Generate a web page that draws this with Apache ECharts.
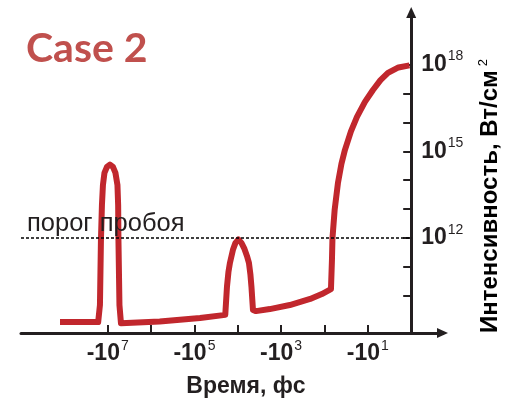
<!DOCTYPE html>
<html>
<head>
<meta charset="utf-8">
<script src="https://cdn.jsdelivr.net/npm/echarts@6/dist/echarts.min.js"></script>
<style>
html,body{margin:0;padding:0;background:#fff;}
#chart{width:510px;height:403px;}
</style>
</head>
<body>
<div id="chart"></div>
<script>
// x position = -log10(-t), t in fs (negative times); y = log10(intensity, W/cm^2)
const timeLog = [-8.10, -7.22, -7.179, -7.156, -7.133, -7.110, -7.075, -7.017, -6.948, -6.879, -6.821, -6.775, -6.759, -6.752, -6.729, -6.694,
  -5.80, -4.87, -4.288, -4.249, -4.215, -4.180, -4.111, -4.053, -3.984, -3.915, -3.845, -3.788, -3.742, -3.707, -3.684, -3.649, -3.58,
  -3.26, -2.80, -2.33, -2.06, -1.850, -1.827, -1.815, -1.765, -1.689, -1.608, -1.527, -1.389, -1.250, -1.066, -0.881, -0.708, -0.535, -0.293, -0.039];
const intensityLog = [9.09, 9.09, 9.68, 11.93, 13.14, 13.83, 14.25, 14.46, 14.54, 14.46, 14.25, 13.83, 13.14, 11.93, 9.68, 9.05,
  9.11, 9.23, 9.34, 10.31, 10.82, 11.14, 11.59, 11.83, 11.95, 11.83, 11.62, 11.38, 11.14, 10.72, 10.31, 9.51, 9.47,
  9.54, 9.68, 9.89, 10.06, 10.23, 11.24, 12.00, 12.97, 13.90, 14.57, 15.05, 15.69, 16.19, 16.71, 17.12, 17.46, 17.71, 17.90, 17.97];
const thresholdLog = 12;
const xTickValues = [-7, -6, -5, -4, -3, -2, -1];
const xLabelValues = [-7, -5, -3, -1];
const yTickValues = [10, 11, 12, 13, 14, 15, 16, 17, 18];
const yLabelValues = [12, 15, 18];
const titleText = 'Case 2';
const thresholdText = 'порог пробоя';
const xName = 'Время, фс';
const yName = 'Интенсивность, Вт/см';

const FONT = '"Liberation Sans", Arial, sans-serif';
const RED = '#c1272d';
const chart = echarts.init(document.getElementById('chart'), null, {renderer: 'canvas'});

const richLabel = {
  b: {fontFamily: FONT, fontWeight: 'bold', fontSize: 23, color: '#231f20', lineHeight: 30},
  s: {fontFamily: FONT, fontSize: 14, color: '#231f20', verticalAlign: 'top', lineHeight: 14, padding: [0, 0, 0, 1]}
};
const arrow = 'path://M5,0 L10,11 L0,11 Z';

chart.setOption({
  animation: false,
  grid: {left: 21, right: 67.5, top: 12.5, bottom: 70, containLabel: false, outerBoundsMode: 'none'},
  xAxis: {
    type: 'value', min: -9, max: 0.723,
    splitLine: {show: false},
    axisLine: {show: true, onZero: false, lineStyle: {color: '#231f20', width: 3},
      symbol: ['none', arrow], symbolSize: [10, 11]},
    axisTick: {show: true, inside: true, length: 8, lineStyle: {color: '#231f20', width: 2},
      customValues: xTickValues},
    axisLabel: {show: true, margin: 6, customValues: xLabelValues,
      formatter: v => '{b|-10}{s|' + Math.round(-v) + '}', rich: richLabel}
  },
  yAxis: {
    type: 'value', min: 8.713, max: 19.80, position: 'right', offset: -31.3,
    splitLine: {show: false},
    axisLine: {show: true, onZero: false, lineStyle: {color: '#231f20', width: 3},
      symbol: ['none', arrow], symbolSize: [10, 11]},
    axisTick: {show: true, inside: true, length: 8, lineStyle: {color: '#231f20', width: 2},
      customValues: yTickValues},
    axisLabel: {show: true, margin: 10, customValues: yLabelValues,
      formatter: v => '{b|10}{s|' + Math.round(v) + '}', rich: richLabel}
  },
  series: [{
    type: 'line',
    data: timeLog.map((x, i) => [x, intensityLog[i]]),
    showSymbol: false,
    smooth: false,
    lineStyle: {color: RED, width: 6, cap: 'butt', join: 'round'},
    z: 3,
    markLine: {
      silent: true, symbol: 'none', z: 5,
      label: {show: false},
      lineStyle: {color: '#000', width: 1.5, type: [3, 2]},
      data: [[{coord: [-9, thresholdLog]}, {coord: [0, thresholdLog]}]]
    }
  }],
  graphic: [
    {type: 'text', x: 26, y: 49, z: 10,
      style: {text: titleText, font: 'bold 41px Lato, "Open Sans", sans-serif', fill: '#c0504d', textVerticalAlign: 'middle'}},
    {type: 'text', x: 27, y: 224, z: 10,
      style: {text: thresholdText, font: '25.5px ' + FONT, fill: '#231f20', textVerticalAlign: 'middle'}},
    {type: 'text', x: 246, y: 387, z: 10,
      style: {text: xName, font: 'bold 23px ' + FONT, fill: '#231f20', textAlign: 'center', textVerticalAlign: 'middle'}},
    {type: 'text', x: 490.5, y: 196, rotation: Math.PI / 2, z: 10,
      style: {text: '{a|' + yName + '}{s|2}', textAlign: 'center', textVerticalAlign: 'middle',
        rich: {
          a: {fontFamily: FONT, fontWeight: 'bold', fontSize: 24, color: '#231f20', lineHeight: 28},
          s: {fontFamily: FONT, fontSize: 13, color: '#231f20', verticalAlign: 'top', lineHeight: 13, padding: [0, 0, 0, 4]}
        }}}
  ]
});
</script>
</body>
</html>
